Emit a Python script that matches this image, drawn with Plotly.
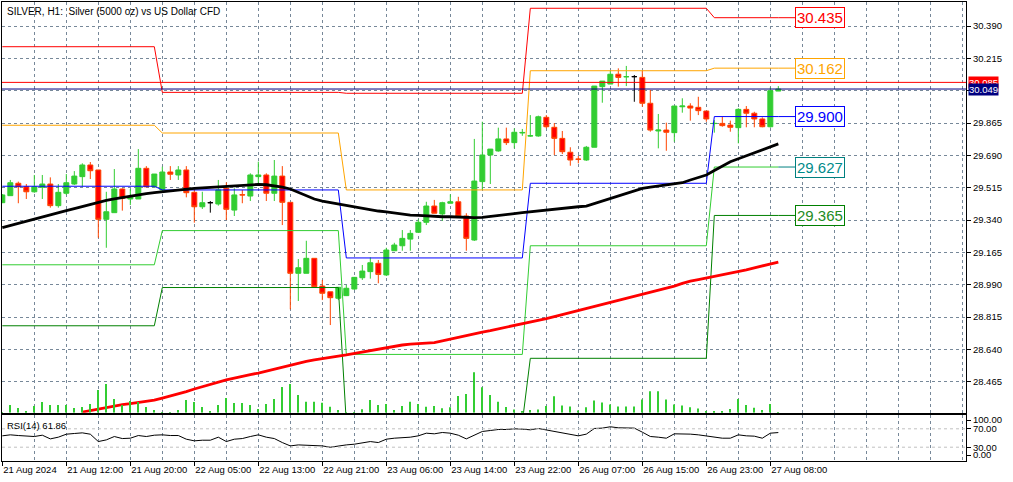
import plotly.graph_objects as go

TITLE = "SILVER, H1:\u00a0 Silver (5000 oz) vs US Dollar CFD"

# time labels on the bottom axis (one every 8 hourly bars)
TICK_BARS = [0, 8, 16, 24, 32, 40, 48, 56, 64, 72, 80, 88, 96]
TICK_LABELS = ["21 Aug 2024", "21 Aug 12:00", "21 Aug 20:00", "22 Aug 05:00",
               "22 Aug 13:00", "22 Aug 21:00", "23 Aug 06:00", "23 Aug 14:00",
               "23 Aug 22:00", "26 Aug 07:00", "26 Aug 15:00", "26 Aug 23:00",
               "27 Aug 08:00"]

# H1 candles, 21 Aug 04:00 .. 27 Aug 09:00
OPEN = [29.434, 29.472, 29.539, 29.520, 29.493, 29.517, 29.535, 29.418, 29.485, 29.535,
        29.575, 29.638, 29.611, 29.344, 29.380, 29.508, 29.454, 29.454, 29.620, 29.520,
        29.503, 29.600, 29.584, 29.611, 29.490, 29.412, 29.434, 29.427, 29.512, 29.394,
        29.477, 29.470, 29.575, 29.584, 29.485, 29.578, 29.436, 29.052, 29.052, 29.133,
        28.983, 28.952, 28.917, 28.931, 28.967, 29.028, 29.061, 29.106, 29.043, 29.174,
        29.201, 29.237, 29.274, 29.328, 29.416, 29.373, 29.431, 29.439, 29.362, 29.232,
        29.548, 29.692, 29.714, 29.779, 29.759, 29.811, 29.795, 29.795, 29.896, 29.842,
        29.782, 29.707, 29.670, 29.665, 29.734, 30.062, 30.076, 30.129, 30.115, 30.116,
        30.112, 29.972, 29.822, 29.827, 29.813, 29.953, 29.957, 29.950, 29.930, 29.862,
        29.863, 29.854, 29.840, 29.939, 29.918, 29.887, 29.845, 30.038]
HIGH = [29.481, 29.557, 29.548, 29.535, 29.584, 29.584, 29.571, 29.535, 29.589, 29.605,
        29.647, 29.654, 29.611, 29.493, 29.616, 29.512, 29.508, 29.724, 29.632, 29.589,
        29.629, 29.632, 29.632, 29.632, 29.503, 29.493, 29.443, 29.557, 29.544, 29.512,
        29.503, 29.593, 29.656, 29.593, 29.665, 29.632, 29.436, 29.129, 29.228, 29.133,
        29.016, 28.952, 28.978, 28.989, 29.032, 29.097, 29.138, 29.124, 29.190, 29.217,
        29.286, 29.286, 29.344, 29.439, 29.449, 29.439, 29.479, 29.466, 29.377, 29.779,
        29.872, 29.724, 29.840, 29.840, 29.836, 29.833, 29.908, 29.905, 29.908, 29.865,
        29.822, 29.734, 29.687, 29.741, 30.065, 30.092, 30.148, 30.161, 30.174, 30.125,
        30.148, 30.044, 29.914, 29.867, 29.957, 29.999, 29.972, 30.007, 29.930, 29.881,
        29.899, 29.878, 29.945, 29.957, 29.926, 29.896, 30.058, 30.065]
LOW = [29.432, 29.472, 29.431, 29.454, 29.488, 29.454, 29.407, 29.407, 29.476, 29.530,
       29.520, 29.562, 29.244, 29.190, 29.380, 29.391, 29.421, 29.454, 29.520, 29.520,
       29.488, 29.557, 29.557, 29.463, 29.326, 29.400, 29.380, 29.418, 29.340, 29.362,
       29.431, 29.443, 29.530, 29.443, 29.443, 29.313, 28.857, 28.902, 29.052, 28.979,
       28.907, 28.772, 28.907, 28.929, 28.962, 29.016, 29.023, 28.998, 29.037, 29.174,
       29.174, 29.174, 29.274, 29.313, 29.377, 29.336, 29.431, 29.362, 29.174, 29.227,
       29.503, 29.535, 29.710, 29.746, 29.728, 29.796, 29.791, 29.791, 29.836, 29.692,
       29.697, 29.634, 29.647, 29.660, 29.734, 29.975, 30.076, 30.062, 30.065, 29.980,
       29.953, 29.818, 29.728, 29.715, 29.764, 29.921, 29.878, 29.908, 29.872, 29.813,
       29.845, 29.818, 29.755, 29.842, 29.842, 29.842, 29.840, 30.038]
CLOSE = [29.476, 29.542, 29.520, 29.493, 29.520, 29.535, 29.418, 29.490, 29.542, 29.578,
         29.638, 29.607, 29.344, 29.385, 29.508, 29.458, 29.466, 29.620, 29.520, 29.589,
         29.600, 29.588, 29.611, 29.488, 29.412, 29.434, 29.434, 29.503, 29.398, 29.476,
         29.476, 29.584, 29.584, 29.485, 29.578, 29.436, 29.052, 29.082, 29.133, 28.979,
         28.944, 28.920, 28.976, 28.971, 29.030, 29.064, 29.109, 29.046, 29.178, 29.205,
         29.241, 29.268, 29.328, 29.416, 29.377, 29.434, 29.439, 29.362, 29.241, 29.551,
         29.692, 29.724, 29.779, 29.759, 29.815, 29.814, 29.796, 29.899, 29.845, 29.782,
         29.710, 29.665, 29.669, 29.734, 30.065, 30.092, 30.129, 30.112, 30.116, 30.116,
         29.972, 29.827, 29.827, 29.815, 29.957, 29.957, 29.946, 29.932, 29.887, 29.863,
         29.851, 29.842, 29.939, 29.918, 29.887, 29.845, 30.040, 30.049]
BLACK_DOJI = [26, 79]

# tick volume per bar
VOLUME = [40, 770, 470, 170, 670, 1070, 770, 770, 770, 470,
          570, 870, 2270, 2870, 1370, 770, 1170, 1070, 570, 270,
          70, 70, 270, 1270, 1070, 570, 170, 770, 1470, 970,
          970, 770, 370, 870, 1370, 2570, 2870, 1770, 1100, 1100,
          1000, 600, 270, 70, 30, 350, 1270, 770, 870, 270,
          670, 1100, 870, 600, 670, 440, 540, 1670, 1870, 4040,
          2540, 1770, 1100, 580, 320, 150, 270, 320, 670, 1650,
          720, 620, 210, 550, 1230, 1020, 820, 620, 620, 620,
          1330, 2150, 2150, 1330, 820, 720, 550, 410, 100, 100,
          100, 370, 1370, 770, 500, 270, 870, 70]

# moving averages
MA_BLACK = [29.299, 29.311, 29.323, 29.335, 29.347, 29.358, 29.369, 29.380, 29.391, 29.402,
            29.413, 29.428, 29.437, 29.446, 29.454, 29.462, 29.471, 29.477, 29.483, 29.489,
            29.494, 29.498, 29.502, 29.508, 29.511, 29.514, 29.517, 29.520, 29.523, 29.526,
            29.529, 29.531, 29.533, 29.531, 29.526, 29.518, 29.508, 29.490, 29.470, 29.454,
            29.443, 29.435, 29.430, 29.421, 29.413, 29.405, 29.397, 29.389, 29.384, 29.378,
            29.373, 29.367, 29.365, 29.362, 29.359, 29.358, 29.358, 29.356, 29.354, 29.353,
            29.355, 29.359, 29.364, 29.370, 29.375, 29.380, 29.385, 29.391, 29.396, 29.401,
            29.405, 29.409, 29.412, 29.416, 29.430, 29.443, 29.457, 29.470, 29.484, 29.497,
            29.511, 29.518, 29.524, 29.530, 29.535, 29.542, 29.557, 29.570, 29.584, 29.608,
            29.632, 29.656, 29.672, 29.688, 29.704, 29.721, 29.735, 29.752]
MA_RED_FIRST_BAR = 10
MA_RED = [28.301, 28.310, 28.318, 28.326, 28.334, 28.342, 28.347, 28.353, 28.358, 28.366,
          28.377, 28.388, 28.399, 28.412, 28.426, 28.439, 28.453, 28.464, 28.475, 28.485,
          28.496, 28.504, 28.512, 28.523, 28.534, 28.545, 28.556, 28.567, 28.575, 28.583,
          28.591, 28.599, 28.604, 28.610, 28.618, 28.626, 28.634, 28.642, 28.650, 28.658,
          28.664, 28.669, 28.672, 28.675, 28.677, 28.686, 28.696, 28.707, 28.718, 28.726,
          28.734, 28.742, 28.751, 28.761, 28.769, 28.778, 28.786, 28.796, 28.807, 28.818,
          28.829, 28.840, 28.851, 28.861, 28.872, 28.883, 28.894, 28.905, 28.916, 28.926,
          28.937, 28.948, 28.959, 28.970, 28.983, 28.997, 29.010, 29.018, 29.026, 29.035,
          29.043, 29.051, 29.059, 29.070, 29.081, 29.091, 29.102, 29.113]

# daily pivot levels: 21, 22, 23, 26, 27 Aug
DAY_BARS = [20, 23, 23, 23, 9]
R2 = [30.278, 30.031, 30.026, 30.486, 30.435]
R1 = [29.853, 29.811, 29.503, 30.148, 30.162]
PP = [29.523, 29.503, 29.135, 29.539, 29.900]
S1 = [29.098, 29.283, 28.613, 29.201, 29.627]
S2 = [28.768, 28.975, 28.245, 28.592, 29.365]

ASK = 30.085
BID = 30.049

RSI = [54.7, 56.9, 55.4, 54.0, 53.2, 56.1, 48.1, 51.8, 58.3, 59.8,
       61.2, 58.3, 42.3, 45.9, 53.2, 48.8, 49.6, 55.4, 53.2, 56.1,
       56.9, 55.4, 55.4, 47.4, 43.8, 45.2, 45.2, 51.8, 42.3, 47.4,
       48.8, 53.2, 56.9, 51.8, 48.8, 40.1, 32.8, 35.0, 34.3, 32.8,
       32.8, 29.9, 32.8, 35.0, 36.5, 38.6, 42.3, 40.1, 47.4, 49.6,
       50.3, 51.8, 54.7, 60.5, 59.1, 62.0, 60.5, 56.1, 48.1, 56.9,
       64.2, 66.3, 68.5, 68.5, 70.0, 69.3, 67.8, 70.7, 67.8, 64.2,
       62.0, 59.1, 54.7, 58.4, 70.7, 71.5, 74.4, 72.2, 71.5, 71.5,
       62.7, 53.3, 51.8, 49.6, 59.1, 59.1, 58.4, 56.9, 54.7, 51.8,
       49.6, 49.6, 56.9, 54.7, 54.0, 49.6, 60.5, 61.86]

Y_TICKS = [28.465, 28.640, 28.815, 28.990, 29.165, 29.340, 29.515, 29.690,
           29.865, 30.040, 30.215, 30.390]
Y_TICK_TEXT = ["28.465", "28.640", "28.815", "28.990", "29.165", "29.340", "29.515",
               "29.690", "29.865", "", "30.215", "30.390"]

GRID = "#778899"
FONT = "Liberation Sans"
BULL = "#32CD32"

n = len(OPEN)
bars = list(range(n))


def per_bar(levels):
    out = []
    for lv, cnt in zip(levels, DAY_BARS):
        out += [lv] * cnt
    return out


def pick(vals, keep):
    return [v if keep(i) else None for i, v in enumerate(vals)]


fig = go.Figure()

# volumes along the bottom of the price window
fig.add_trace(go.Bar(x=bars, y=VOLUME, yaxis="y3", width=0.14,
                     marker=dict(color=BULL, line_width=0), hoverinfo="skip"))

normal = lambda i: i not in BLACK_DOJI
doji = lambda i: i in BLACK_DOJI
fig.add_trace(go.Candlestick(
    x=bars, open=pick(OPEN, normal), high=pick(HIGH, normal),
    low=pick(LOW, normal), close=pick(CLOSE, normal),
    increasing=dict(line=dict(color=BULL, width=1), fillcolor=BULL),
    decreasing=dict(line=dict(color="#FF4500", width=1), fillcolor="#FF0000"),
    hoverinfo="skip"))
fig.add_trace(go.Candlestick(
    x=bars, open=pick(OPEN, doji), high=pick(HIGH, doji),
    low=pick(LOW, doji), close=pick(CLOSE, doji),
    increasing=dict(line=dict(color="black", width=1), fillcolor="black"),
    decreasing=dict(line=dict(color="black", width=1), fillcolor="black"),
    hoverinfo="skip"))

pivots = [(R2, "#FF0000"), (R1, "#FFA500"), (PP, "#0000FF"),
          (S1, BULL), (S2, "#008000")]
for levels, col in pivots:
    fig.add_trace(go.Scatter(x=bars, y=per_bar(levels), mode="lines",
                             line=dict(color=col, width=1), hoverinfo="skip"))

fig.add_trace(go.Scatter(x=bars[MA_RED_FIRST_BAR:], y=MA_RED, mode="lines",
                         line=dict(color="#FF0000", width=2.8), hoverinfo="skip"))
fig.add_trace(go.Scatter(x=bars, y=MA_BLACK, mode="lines",
                         line=dict(color="black", width=2.8), hoverinfo="skip"))

fig.add_trace(go.Scatter(x=bars, y=RSI, mode="lines", xaxis="x2", yaxis="y2",
                         line=dict(color="black", width=1), hoverinfo="skip"))

# level boxes at the right end of the pivot lines
boxes = [(R2[-1], "#FF0000", "#FF0000"), (R1[-1], "#FFA500", "#FFA500"),
         (PP[-1], "#0000FF", "#0000FF"), (S1[-1], "#008080", "#008B8B"),
         (S2[-1], "#008000", "#228B22")]
for val, border, txt in boxes:
    fig.add_shape(type="line", xref="x", yref="y", x0=n - 1, x1=n + 1.1,
                  y0=val, y1=val, line=dict(color=border, width=1))
    fig.add_annotation(x=n + 1.1, y=val, xref="x", yref="y", text=f"{val:.3f}",
                       showarrow=False, xanchor="left", yanchor="middle",
                       font=dict(family=FONT, size=15, color=txt),
                       bgcolor="white", bordercolor=border, borderwidth=1,
                       borderpad=1)

# ask / bid lines and price tags
for val, col in [(ASK, "#FF0000"), (BID, "#000080")]:
    fig.add_shape(type="line", xref="x domain", yref="y", x0=0, x1=1,
                  y0=val, y1=val, line=dict(color=col, width=1))
    fig.add_annotation(xref="paper", x=1, xshift=2, y=val, yref="y",
                       text=f"{val:.3f}", showarrow=False, xanchor="left",
                       yanchor="middle", bgcolor=col, borderpad=0,
                       font=dict(family=FONT, size=9.5, color="white"))

for lvl in (70, 30):
    fig.add_shape(type="line", xref="x2 domain", yref="y2", x0=0, x1=1,
                  y0=lvl, y1=lvl,
                  line=dict(color="#C0C0C0", width=1, dash="3px,3px"))

fig.add_annotation(xref="paper", yref="paper", x=0, y=1, xshift=3, yshift=-2,
                   xanchor="left", yanchor="top", text=TITLE, showarrow=False,
                   font=dict(family=FONT, size=10, color="black"))
fig.add_annotation(xref="paper", yref="y2 domain", x=0, y=1, xshift=3, yshift=-3,
                   xanchor="left", yanchor="top", text=f"RSI(14) {RSI[-1]:.2f}",
                   showarrow=False, font=dict(family=FONT, size=9.5, color="black"))

xgrid = dict(tickmode="array", tickvals=list(range(0, 121, 4)), showgrid=True,
             gridcolor=GRID, griddash="3px,3px", gridwidth=1, ticks="")
axis_line = dict(showline=True, linecolor="black", linewidth=1, mirror=True,
                 zeroline=False, automargin=False)
XR = [-0.04, 120.46]

fig.update_layout(
    template="none",
    width=1013, height=482,
    margin=dict(l=2, r=47, t=2, b=21),
    paper_bgcolor="white", plot_bgcolor="white",
    showlegend=False, boxgap=0.38, boxgroupgap=0,
    xaxis=dict(domain=[0, 1], anchor="y", range=XR, tickmode="array",
               tickvals=TICK_BARS, showticklabels=False, ticks="",
               showgrid=True, gridcolor=GRID, griddash="3px,3px",
               minor=xgrid, rangeslider=dict(visible=False), **axis_line),
    xaxis2=dict(domain=[0, 1], anchor="y2", matches="x", range=XR,
                tickmode="array", tickvals=TICK_BARS, ticktext=TICK_LABELS,
                ticks="outside", ticklen=4, tickcolor="black", tickangle=0,
                ticklabelposition="outside right",
                tickfont=dict(family=FONT, size=9.5, color="black"),
                showgrid=True, gridcolor=GRID, griddash="3px,3px",
                minor=xgrid, **axis_line),
    yaxis=dict(domain=[0.1052, 1], anchor="x", side="right",
               range=[28.2976, 30.5199], tickmode="array", tickvals=Y_TICKS,
               ticktext=Y_TICK_TEXT, ticks="outside", ticklen=4, tickcolor="black",
               tickfont=dict(family=FONT, size=9.5, color="black"),
               showgrid=True, gridcolor=GRID, griddash="3px,3px", **axis_line),
    yaxis2=dict(domain=[0, 0.1002], anchor="x2", side="right", range=[0, 100],
                tickmode="array", tickvals=[89, 70, 30, 13],
                ticktext=["100.00", "70.00", "30.00", "0.00"],
                ticks="outside", ticklen=4, tickcolor="black",
                tickfont=dict(family=FONT, size=9.5, color="black"),
                showgrid=False, **axis_line),
    yaxis3=dict(overlaying="y", anchor="x", range=[0, 41070], visible=False),
)

# the page's default body margin would shift the figure by 8px
fig.write_html("out.html", config={"displayModeBar": False},
               post_script="document.body.style.margin='0';")
